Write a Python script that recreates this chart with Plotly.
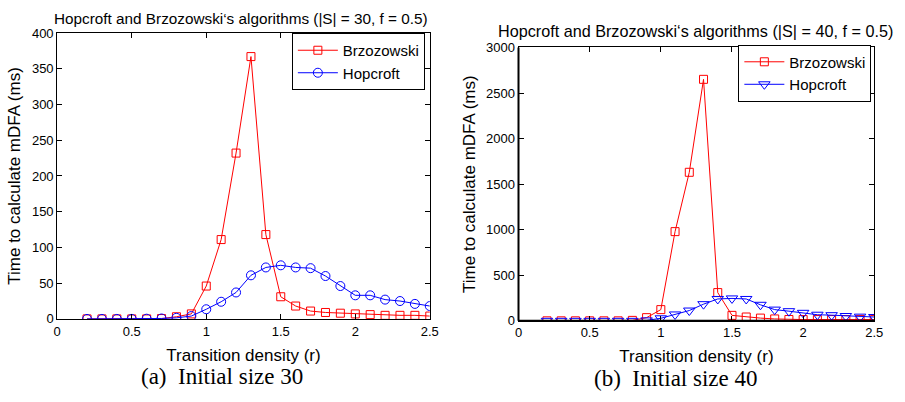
import plotly.graph_objects as go

density = [0.2, 0.3, 0.4, 0.5, 0.6, 0.7, 0.8, 0.9, 1.0, 1.1, 1.2, 1.3,
           1.4, 1.5, 1.6, 1.7, 1.8, 1.9, 2.0, 2.1, 2.2, 2.3, 2.4, 2.5]

brz_30 = [0, 0, 0, 0, 0, 0.5, 3, 7, 46, 111, 232, 367,
          118, 31, 18, 11, 9, 8, 7, 6, 5, 5, 5, 4]
hop_30 = [0, 0, 0, 0, 0.3, 0.6, 1.5, 4, 13.5, 24, 37, 61,
          72, 75, 72, 71, 60, 46, 33, 33, 27, 25, 21, 18]

brz_40 = [0, 0, 0, 0, 0, 0, 5, 35, 123, 979, 1630, 2650,
          310, 60, 42, 30, 21, 15, 14, 14, 14, 14, 14, 14]
hop_40 = [0, 0, 0, 0, 0, 0, 0, 5, 28, 70, 113, 183,
          240, 246, 240, 176, 123, 106, 88, 67, 62, 53, 46, 42]

x_ticks = [0, 0.5, 1, 1.5, 2, 2.5]
x_tick_text = ["0", "0.5", "1", "1.5", "2", "2.5"]

titles = ["Hopcroft and Brzozowski\u2018s algorithms (|S| = 30, f = 0.5)",
          "Hopcroft and Brzozowski\u2018s algorithms (|S| = 40, f = 0.5)"]
captions = ["(a)  Initial size 30", "(b)  Initial size 40"]
x_title = "Transition density (r)"
y_title = "Time to calculate mDFA (ms)"

W, H = 905, 402
SANS = "Liberation Sans, Arial, Helvetica, sans-serif"
SERIF = "Liberation Serif, Times New Roman, serif"

fig = go.Figure()

fig.add_trace(go.Scatter(x=density, y=brz_30, mode="lines+markers", name="Brzozowski",
                         line=dict(color="#ff0000", width=1),
                         marker=dict(symbol="square-open", size=8, color="#ff0000", line=dict(width=1)),
                         xaxis="x", yaxis="y", legend="legend"))
fig.add_trace(go.Scatter(x=density, y=hop_30, mode="lines+markers", name="Hopcroft",
                         line=dict(color="#0000ff", width=1),
                         marker=dict(symbol="circle-open", size=9, color="#0000ff", line=dict(width=1)),
                         xaxis="x", yaxis="y", legend="legend"))
fig.add_trace(go.Scatter(x=density, y=brz_40, mode="lines+markers", name="Brzozowski",
                         line=dict(color="#ff0000", width=1),
                         marker=dict(symbol="square-open", size=8, color="#ff0000", line=dict(width=1)),
                         xaxis="x2", yaxis="y2", legend="legend2"))
fig.add_trace(go.Scatter(x=density, y=hop_40, mode="lines+markers", name="Hopcroft",
                         line=dict(color="#0000ff", width=1),
                         marker=dict(symbol="triangle-down-open", size=10, color="#0000ff", line=dict(width=1)),
                         xaxis="x2", yaxis="y2", legend="legend2"))

# plot areas in pixels
L = dict(x0=54, x1=432, y0=27, y1=324)
R = dict(x0=522, x1=883, y0=42, y1=326)


def xd(a):
    return [a["x0"] / W, a["x1"] / W]


def yd(a):
    return [1 - a["y1"] / H, 1 - a["y0"] / H]


axis_common = dict(showgrid=False, zeroline=False, ticks="inside", ticklen=5,
                   tickcolor="black", showline=True, linecolor="black", linewidth=1,
                   mirror="ticks", tickfont=dict(family=SANS, size=13, color="black"))
title_font = dict(family=SANS, size=17, color="black")
legend_font = dict(family=SANS, size=15, color="black")

fig.update_layout(
    width=W, height=H,
    margin=dict(l=0, r=0, t=0, b=0),
    paper_bgcolor="white", plot_bgcolor="white",
    xaxis=dict(domain=xd(L), range=[0, 2.5], tickvals=x_ticks, ticktext=x_tick_text,
               anchor="y", title=dict(text=x_title, font=title_font, standoff=11),
               **axis_common),
    yaxis=dict(domain=yd(L), range=[0, 400], dtick=50, anchor="x",
               title=dict(text=y_title, font=title_font, standoff=6),
               **axis_common),
    xaxis2=dict(domain=xd(R), range=[0, 2.5], tickvals=x_ticks, ticktext=x_tick_text,
                anchor="y2", title=dict(text=x_title, font=title_font, standoff=10),
                **axis_common),
    yaxis2=dict(domain=yd(R), range=[0, 3000], dtick=500, anchor="x2",
                title=dict(text=y_title, font=title_font, standoff=6),
                **axis_common),
    legend=dict(x=427 / W, y=1 - 27 / H, xanchor="right", yanchor="top",
                bgcolor="white", bordercolor="black", borderwidth=1,
                font=legend_font, tracegroupgap=0, itemwidth=40),
    legend2=dict(x=880 / W, y=1 - 39 / H, xanchor="right", yanchor="top",
                 bgcolor="white", bordercolor="black", borderwidth=1,
                 font=legend_font, tracegroupgap=0, itemwidth=40),
    showlegend=True,
)

# thicker left/bottom spines of right panel
fig.add_shape(type="line", xref="x2 domain", yref="y2 domain", x0=0, x1=0, y0=0, y1=1,
              line=dict(color="black", width=2))
fig.add_shape(type="line", xref="x2 domain", yref="y2 domain", x0=0, x1=1, y0=0, y1=0,
              line=dict(color="black", width=2))

# titles
fig.add_annotation(text=titles[0], x=240 / W, y=1 - 12 / H, xref="paper", yref="paper",
                   showarrow=False, font=dict(family=SANS, size=15.3, color="black"),
                   xanchor="center", yanchor="middle")
fig.add_annotation(text=titles[1], x=702 / W, y=1 - 25 / H, xref="paper", yref="paper",
                   showarrow=False, font=dict(family=SANS, size=16.2, color="black"),
                   xanchor="center", yanchor="middle")
# captions
fig.add_annotation(text=captions[0], x=221 / W, y=1 - 384 / H, xref="paper", yref="paper",
                   showarrow=False, font=dict(family=SERIF, size=23, color="black"),
                   xanchor="center", yanchor="middle")
fig.add_annotation(text=captions[1], x=682 / W, y=1 - 386 / H, xref="paper", yref="paper",
                   showarrow=False, font=dict(family=SERIF, size=23, color="black"),
                   xanchor="center", yanchor="middle")

fig.write_html("out.html")
